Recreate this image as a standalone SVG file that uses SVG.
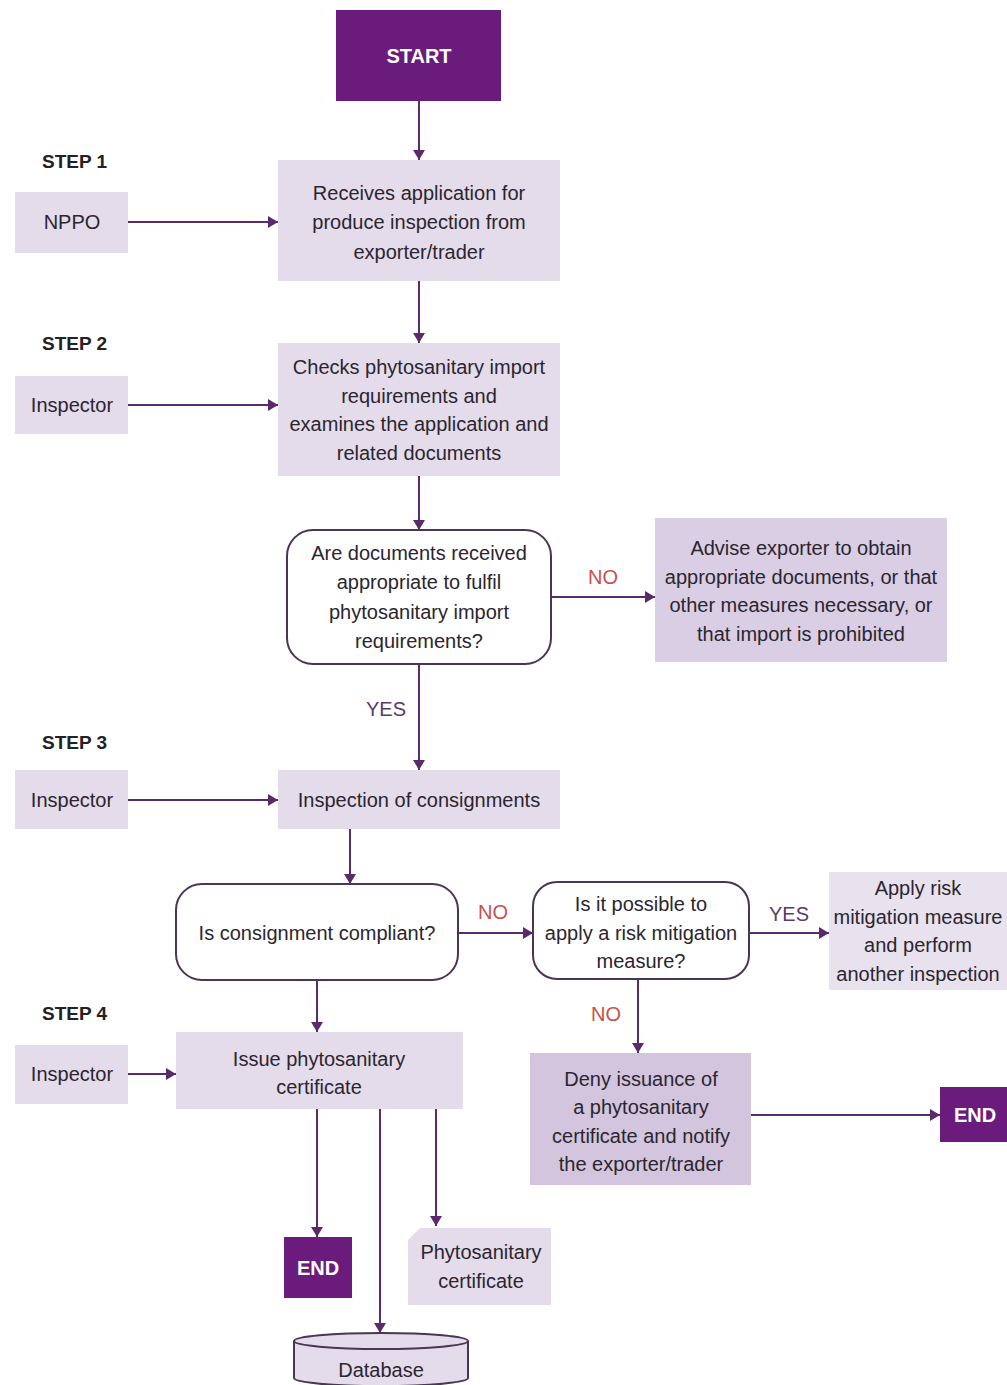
<svg xmlns="http://www.w3.org/2000/svg" width="1007" height="1385" viewBox="0 0 1007 1385">
<defs>
<style>
text{font-family:"Liberation Sans Narrow","Liberation Sans",Arial,sans-serif;font-size:20px;fill:#2b2530;text-anchor:middle;}
.step{text-anchor:start;font-weight:bold;font-size:19px;fill:#222;}
.term{fill:#6a1b7c;}
.termt{fill:#fff;font-weight:bold;}
.proc{fill:#e4dcea;}
.adv{fill:#d9cee3;}
.deny{fill:#d2c5dd;}
.apply{fill:#e8e2ee;}
.dec{fill:#fff;stroke:#4a3552;stroke-width:2;}
.no{fill:#c9504a;}
.yes{fill:#5a3a6a;}
.conn path{fill:none;stroke:#5b2a6a;stroke-width:2;marker-end:url(#ah);}
</style>
<marker id="ah" markerWidth="12" markerHeight="12" refX="10" refY="6" orient="auto" markerUnits="userSpaceOnUse">
<path d="M0,0 L10,6 L0,12 Z" fill="#5b2a6a"/>
</marker>
</defs>
<rect width="1007" height="1385" fill="#fff"/>

<text class="step" x="42" y="168">STEP 1</text>
<text class="step" x="42" y="350">STEP 2</text>
<text class="step" x="42" y="749">STEP 3</text>
<text class="step" x="42" y="1020">STEP 4</text>

<g id="start"><rect class="term" x="336" y="10" width="165" height="91"/><text class="termt" x="419" y="63">START</text></g>

<g id="nppo"><rect class="proc" x="15" y="192" width="113" height="61"/><text x="72" y="229">NPPO</text></g>
<g id="step1"><rect class="proc" x="278" y="160" width="282" height="121"/>
<text x="419" y="200">Receives application for</text>
<text x="419" y="229">produce inspection from</text>
<text x="419" y="259">exporter/trader</text></g>

<g id="insp2"><rect class="proc" x="15" y="376" width="113" height="58"/><text x="72" y="412">Inspector</text></g>
<g id="step2"><rect class="proc" x="278" y="343" width="282" height="133"/>
<text x="419" y="374">Checks phytosanitary import</text>
<text x="419" y="403">requirements and</text>
<text x="419" y="431">examines the application and</text>
<text x="419" y="460">related documents</text></g>

<g id="dec1"><rect class="dec" x="287" y="530" width="264" height="134" rx="26"/>
<text x="419" y="560">Are documents received</text>
<text x="419" y="589">appropriate to fulfil</text>
<text x="419" y="619">phytosanitary import</text>
<text x="419" y="648">requirements?</text></g>

<g id="advise"><rect class="adv" x="655" y="518" width="292" height="144"/>
<text x="801" y="555">Advise exporter to obtain</text>
<text x="801" y="584">appropriate documents, or that</text>
<text x="801" y="612">other measures necessary, or</text>
<text x="801" y="641">that import is prohibited</text></g>

<g id="insp3"><rect class="proc" x="15" y="770" width="113" height="59"/><text x="72" y="807">Inspector</text></g>
<g id="step3"><rect class="proc" x="278" y="770" width="282" height="59"/><text x="419" y="807">Inspection of consignments</text></g>

<g id="dec2"><rect class="dec" x="176" y="884" width="282" height="96" rx="26"/><text x="317" y="940">Is consignment compliant?</text></g>

<g id="dec3"><rect class="dec" x="533" y="882" width="216" height="97" rx="24"/>
<text x="641" y="911">Is it possible to</text>
<text x="641" y="940">apply a risk mitigation</text>
<text x="641" y="968">measure?</text></g>

<g id="apply"><rect class="apply" x="829" y="872" width="178" height="118"/>
<text x="918" y="895">Apply risk</text>
<text x="918" y="924">mitigation measure</text>
<text x="918" y="952">and perform</text>
<text x="918" y="981">another inspection</text></g>

<g id="deny"><rect class="deny" x="530" y="1053" width="221" height="132"/>
<text x="641" y="1086">Deny issuance of</text>
<text x="641" y="1114">a phytosanitary</text>
<text x="641" y="1143">certificate and notify</text>
<text x="641" y="1171">the exporter/trader</text></g>

<g id="end1"><rect class="term" x="940" y="1087" width="67" height="55"/><text class="termt" x="975" y="1122">END</text></g>

<g id="insp4"><rect class="proc" x="15" y="1045" width="113" height="59"/><text x="72" y="1081">Inspector</text></g>
<g id="step4"><rect class="proc" x="176" y="1032" width="287" height="77"/>
<text x="319" y="1066">Issue phytosanitary</text>
<text x="319" y="1094">certificate</text></g>

<g id="end2"><rect class="term" x="284" y="1237" width="68" height="61"/><text class="termt" x="318" y="1275">END</text></g>

<g id="cert"><path class="proc" d="M420,1228 L551,1228 L551,1305 L408,1305 L408,1240 Z"/>
<text x="481" y="1259">Phytosanitary</text>
<text x="481" y="1288">certificate</text></g>

<g id="database">
<path d="M294,1341 L294,1378 A87,8 0 0 0 468,1378 L468,1341" fill="#e4dcea" stroke="#4a3552" stroke-width="2"/>
<ellipse cx="381" cy="1341" rx="87" ry="8" fill="#e4dcea" stroke="#4a3552" stroke-width="2"/>
<text x="381" y="1377">Database</text></g>

<g id="labels">
<text class="no" x="603" y="584">NO</text>
<text class="yes" x="386" y="716">YES</text>
<text class="no" x="493" y="919">NO</text>
<text class="yes" x="789" y="921">YES</text>
<text class="no" x="606" y="1021">NO</text>
</g>

<g class="conn" id="connectors">
<path d="M419,101 L419,160"/>
<path d="M128,222 L278,222"/>
<path d="M419,281 L419,343"/>
<path d="M128,405 L278,405"/>
<path d="M419,476 L419,530"/>
<path d="M551,597 L655,597"/>
<path d="M419,664 L419,770"/>
<path d="M128,800 L278,800"/>
<path d="M350,829 L350,884"/>
<path d="M458,933 L533,933"/>
<path d="M749,933 L829,933"/>
<path d="M638,979 L638,1053"/>
<path d="M751,1115 L940,1115"/>
<path d="M317,980 L317,1032"/>
<path d="M128,1074 L176,1074"/>
<path d="M317,1109 L317,1237"/>
<path d="M380,1109 L380,1333"/>
<path d="M436,1109 L436,1226"/>
</g>
</svg>
